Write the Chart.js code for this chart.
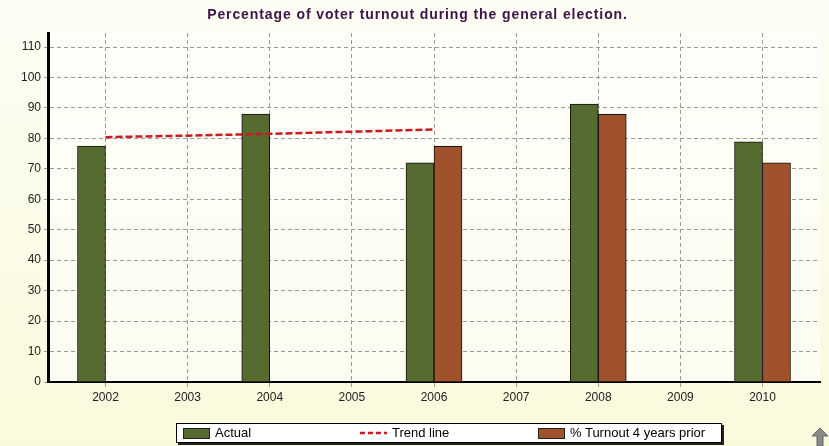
<!DOCTYPE html>
<html><head><meta charset="utf-8">
<script src="https://cdn.jsdelivr.net/npm/chart.js@4/dist/chart.umd.min.js"></script>
<style>
html,body{margin:0;padding:0;}
body{width:829px;height:446px;overflow:hidden;background:linear-gradient(#fdfdf4,#f9f9dc);position:relative;font-family:"Liberation Sans",Arial,sans-serif;}
#c{position:absolute;left:0;top:0;}
#title{position:absolute;left:0;top:5px;width:835px;text-align:center;font-weight:bold;font-size:14px;line-height:18px;letter-spacing:0.9px;color:#3d1448;white-space:nowrap;}
#legend{position:absolute;left:176px;top:423px;width:544px;height:18px;background:#fff;border:1px solid #000;box-shadow:2px 2px 0 #222;}
.item{position:absolute;top:0;height:18px;font-size:13px;line-height:18px;color:#000;white-space:nowrap;}
.sw{position:absolute;left:0;top:4px;width:25px;height:9px;border:1px solid #222;}
.ln{position:absolute;left:0;top:5px;}
.lbl{position:absolute;left:32px;top:0;}
#arrow{position:absolute;left:811px;top:427px;}
</style></head>
<body>
<canvas id="c" width="829" height="446"></canvas>
<div id="title"></div>
<div id="legend"></div>
<svg id="arrow" width="18" height="19" viewBox="0 0 18 19"><polygon points="9,1 17,9 12,9 12,19 6,19 6,9 1,9" fill="#8a8a8a" stroke="#666" stroke-width="1"/></svg>
<script>
const years = [2002, 2003, 2004, 2005, 2006, 2007, 2008, 2009, 2010];
const actualYears = [2002, 2004, 2006, 2008, 2010];
const actualValues = [77.5, 88.0, 72.0, 91.3, 78.9];
const priorYears = [2006, 2008, 2010];
const priorValues = [77.4, 87.9, 72.0];
const trendYears = [2002, 2003, 2004, 2005, 2006];
const trendValues = [80.4, 80.9, 81.5, 82.2, 82.9];
const yTicks = [0, 10, 20, 30, 40, 50, 60, 70, 80, 90, 100, 110];
const seriesLabels = ['Actual', 'Trend line', '% Turnout 4 years prior'];
const titleText = 'Percentage of voter turnout during the general election.';

const FONT = 'Liberation Sans, Arial, sans-serif';
document.getElementById('title').textContent = titleText;

const plotBg = {
  id: 'plotBg',
  beforeDraw(chart) {
    const {ctx, chartArea: a} = chart;
    ctx.save();
    ctx.fillStyle = 'rgba(255,255,255,0.55)';
    ctx.fillRect(a.left, a.top, a.right - a.left, a.bottom - a.top);
    ctx.restore();
  }
};

const chart = new Chart(document.getElementById('c'), {
  type: 'bar',
  data: {
    datasets: [
      {
        label: seriesLabels[0],
        data: actualYears.map((x, i) => ({x: x, y: actualValues[i]})),
        backgroundColor: '#556b2f',
        borderColor: '#111',
        borderWidth: 1,
        barThickness: 28,
        order: 1
      },
      {
        type: 'line',
        label: seriesLabels[1],
        data: trendYears.map((x, i) => ({x: x, y: trendValues[i]})),
        borderColor: '#cc1a22',
        borderWidth: 2.5,
        borderDash: [7, 3],
        pointRadius: 0,
        fill: false,
        tension: 0,
        order: 0
      },
      {
        label: seriesLabels[2],
        data: priorYears.map((x, i) => ({x: x, y: priorValues[i]})),
        backgroundColor: '#a0522d',
        borderColor: '#111',
        borderWidth: 1,
        barThickness: 28,
        order: 1
      }
    ]
  },
  options: {
    responsive: false,
    animation: false,
    layout: {padding: {left: 15, right: 9, top: 33, bottom: 40}},
    plugins: {
      legend: {display: false},
      tooltip: {enabled: false},
      title: {display: false}
    },
    scales: {
      x: {
        type: 'linear',
        min: 2001.3,
        max: 2010.7,
        offset: false,
        afterBuildTicks(s) { s.ticks = years.map(v => ({value: v})); },
        afterFit(s) { s.height = 24; },
        ticks: {callback: v => String(v), color: '#222', font: {family: FONT, size: 12}, padding: 3, maxRotation: 0, autoSkip: false},
        grid: {color: '#9a9a9a', lineWidth: 1, tickLength: 5, offset: false, drawOnChartArea: true},
        border: {display: true, color: '#000', width: 2, dash: [4, 3]}
      },
      y: {
        min: 0,
        max: 114.6,
        afterBuildTicks(s) { s.ticks = yTicks.map(v => ({value: v})); },
        afterFit(s) { s.width = 33; },
        ticks: {callback: v => String(v), color: '#222', font: {family: FONT, size: 12}, padding: 3},
        grid: {color: '#9a9a9a', lineWidth: 1, tickLength: 4},
        border: {display: true, color: '#000', width: 3, dash: [4, 3]}
      }
    }
  },
  plugins: [plotBg]
});

// HTML legend built from the chart's datasets
const legend = document.getElementById('legend');
const slots = [6, 183, 361];
chart.data.datasets.forEach((ds, i) => {
  const item = document.createElement('div');
  item.className = 'item';
  item.style.left = slots[i] + 'px';
  if (ds.type === 'line') {
    item.innerHTML = '<svg class="ln" width="27" height="8"><line x1="0" y1="4" x2="27" y2="4" stroke="' + ds.borderColor + '" stroke-width="2.5" stroke-dasharray="5,3"/></svg>';
  } else {
    item.innerHTML = '<div class="sw" style="background:' + ds.backgroundColor + '"></div>';
  }
  const lbl = document.createElement('span');
  lbl.className = 'lbl';
  lbl.textContent = ds.label;
  item.appendChild(lbl);
  legend.appendChild(item);
});
</script>
</body></html>
